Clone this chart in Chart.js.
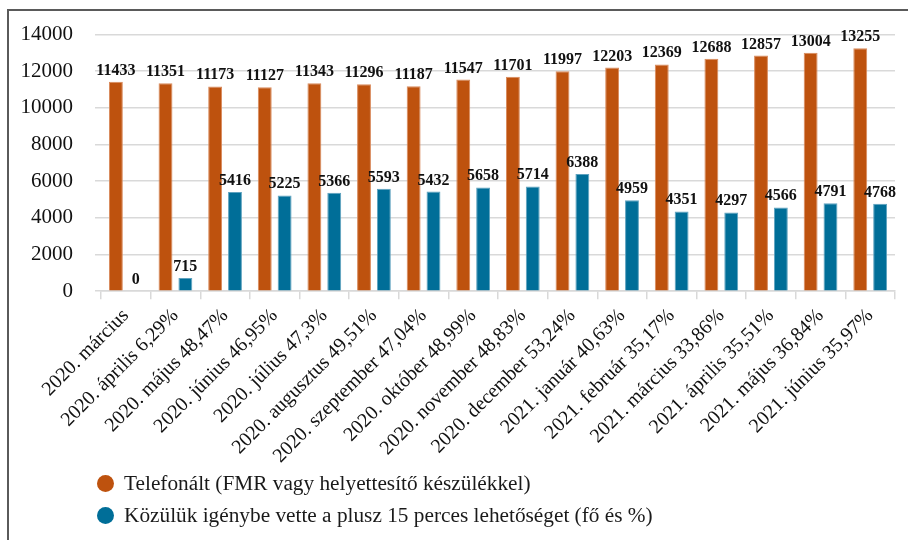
<!DOCTYPE html>
<html>
<head>
<meta charset="utf-8">
<script src="https://cdn.jsdelivr.net/npm/chart.js@4"></script>
<style>
    body { margin: 0; background: #fff; }
    #wrap { position: relative; width: 908px; height: 540px; overflow: hidden; }
    #frame { position: absolute; left: 7px; top: 9px; right: -4px; bottom: -4px;
             border-left: 2px solid #5a5a5a; border-top: 2px solid #5a5a5a; }
    #chart-box { position: absolute; left: 0; top: 0; width: 908px; height: 473px; }
    #legend { position: absolute; left: 97px; top: 467px; font-family: "Liberation Serif", serif;
              font-size: 21.3px; color: #1a1a1a; }
    .legend-item { display: flex; align-items: center; height: 32px; }
    .legend-dot { width: 17px; height: 17px; border-radius: 50%; margin-right: 10px; }
</style>
</head>
<body>
<div id="wrap">
    <div id="frame"></div>
    <div id="chart-box"><canvas id="chart"></canvas></div>
    <div id="legend"></div>
</div>
<script>
const months = [
    '2020. március', '2020. április 6,29%', '2020. május 48,47%', '2020. június 46,95%',
    '2020. július 47,3%', '2020. augusztus 49,51%', '2020. szeptember 47,04%', '2020. október 48,99%',
    '2020. november 48,83%', '2020. december 53,24%', '2021. január 40,63%', '2021. február 35,17%',
    '2021. március 33,86%', '2021. április 35,51%', '2021. május 36,84%', '2021. június 35,97%'
];
const telefonalt = [11433, 11351, 11173, 11127, 11343, 11296, 11187, 11547, 11701, 11997, 12203, 12369, 12688, 12857, 13004, 13255];
const plusz15 = [0, 715, 5416, 5225, 5366, 5593, 5432, 5658, 5714, 6388, 4959, 4351, 4297, 4566, 4791, 4768];
const seriesNames = [
    'Telefonált (FMR vagy helyettesítő készülékkel)',
    'Közülük igénybe vette a plusz 15 perces lehetőséget (fő és %)'
];
const yTicks = [0, 2000, 4000, 6000, 8000, 10000, 12000, 14000];

const serif = '"Liberation Serif", "Times New Roman", serif';

// value labels above each bar
const barLabels = {
    id: 'barLabels',
    afterDatasetsDraw(chart) {
        const ctx = chart.ctx;
        ctx.save();
        ctx.font = 'bold 16px ' + serif;
        ctx.fillStyle = '#111';
        ctx.textAlign = 'center';
        ctx.textBaseline = 'alphabetic';
        chart.data.datasets.forEach((ds, i) => {
            chart.getDatasetMeta(i).data.forEach((bar, j) => {
                ctx.fillText(String(ds.data[j]), bar.x, bar.y - 7);
            });
        });
        ctx.restore();
    }
};

const chart = new Chart(document.getElementById('chart'), {
    type: 'bar',
    data: {
        labels: months,
        datasets: [
            {
                label: seriesNames[0],
                data: telefonalt,
                backgroundColor: '#BE520E',
                borderColor: '#D98A5C',
                borderWidth: 1,
                categoryPercentage: 0.8,
                barPercentage: 0.7
            },
            {
                label: seriesNames[1],
                data: plusz15,
                backgroundColor: '#006E98',
                borderColor: '#5EA2BF',
                borderWidth: 1,
                categoryPercentage: 0.8,
                barPercentage: 0.7
            }
        ]
    },
    options: {
        responsive: true,
        maintainAspectRatio: false,
        animation: false,
        layout: { padding: { left: 21, right: 13, top: 31.5, bottom: 0 } },
        plugins: {
            legend: { display: false },
            tooltip: { enabled: false }
        },
        scales: {
            x: {
                afterFit(scale) { scale.paddingLeft = 0; },
                grid: { drawOnChartArea: false, drawTicks: true, tickLength: 8, color: '#D9D9D9', lineWidth: 1.5 },
                border: { color: '#D9D9D9', width: 1.5 },
                ticks: {
                    color: '#111',
                    font: { family: serif, size: 20 },
                    maxRotation: 45,
                    minRotation: 45,
                    padding: 5,
                    autoSkip: false
                }
            },
            y: {
                min: 0,
                max: 14000,
                afterBuildTicks(axis) {
                    axis.ticks = yTicks.map(v => ({ value: v }));
                },
                // chart.js reserves the tick padding twice; keep the axis tight
                afterFit(scale) { scale.width = 80; },
                grid: { color: '#D9D9D9', lineWidth: 1.5, tickLength: 6 },
                border: { display: false },
                ticks: {
                    color: '#111',
                    font: { family: serif, size: 21 },
                    padding: 22,
                    callback: v => String(v)
                }
            }
        }
    },
    plugins: [barLabels]
});

const legendEl = document.getElementById('legend');
chart.data.datasets.forEach(ds => {
    const item = document.createElement('div');
    item.className = 'legend-item';
    item.innerHTML = `<span class="legend-dot" style="background:${ds.backgroundColor}"></span><span>${ds.label}</span>`;
    legendEl.appendChild(item);
});
</script>
</body>
</html>
